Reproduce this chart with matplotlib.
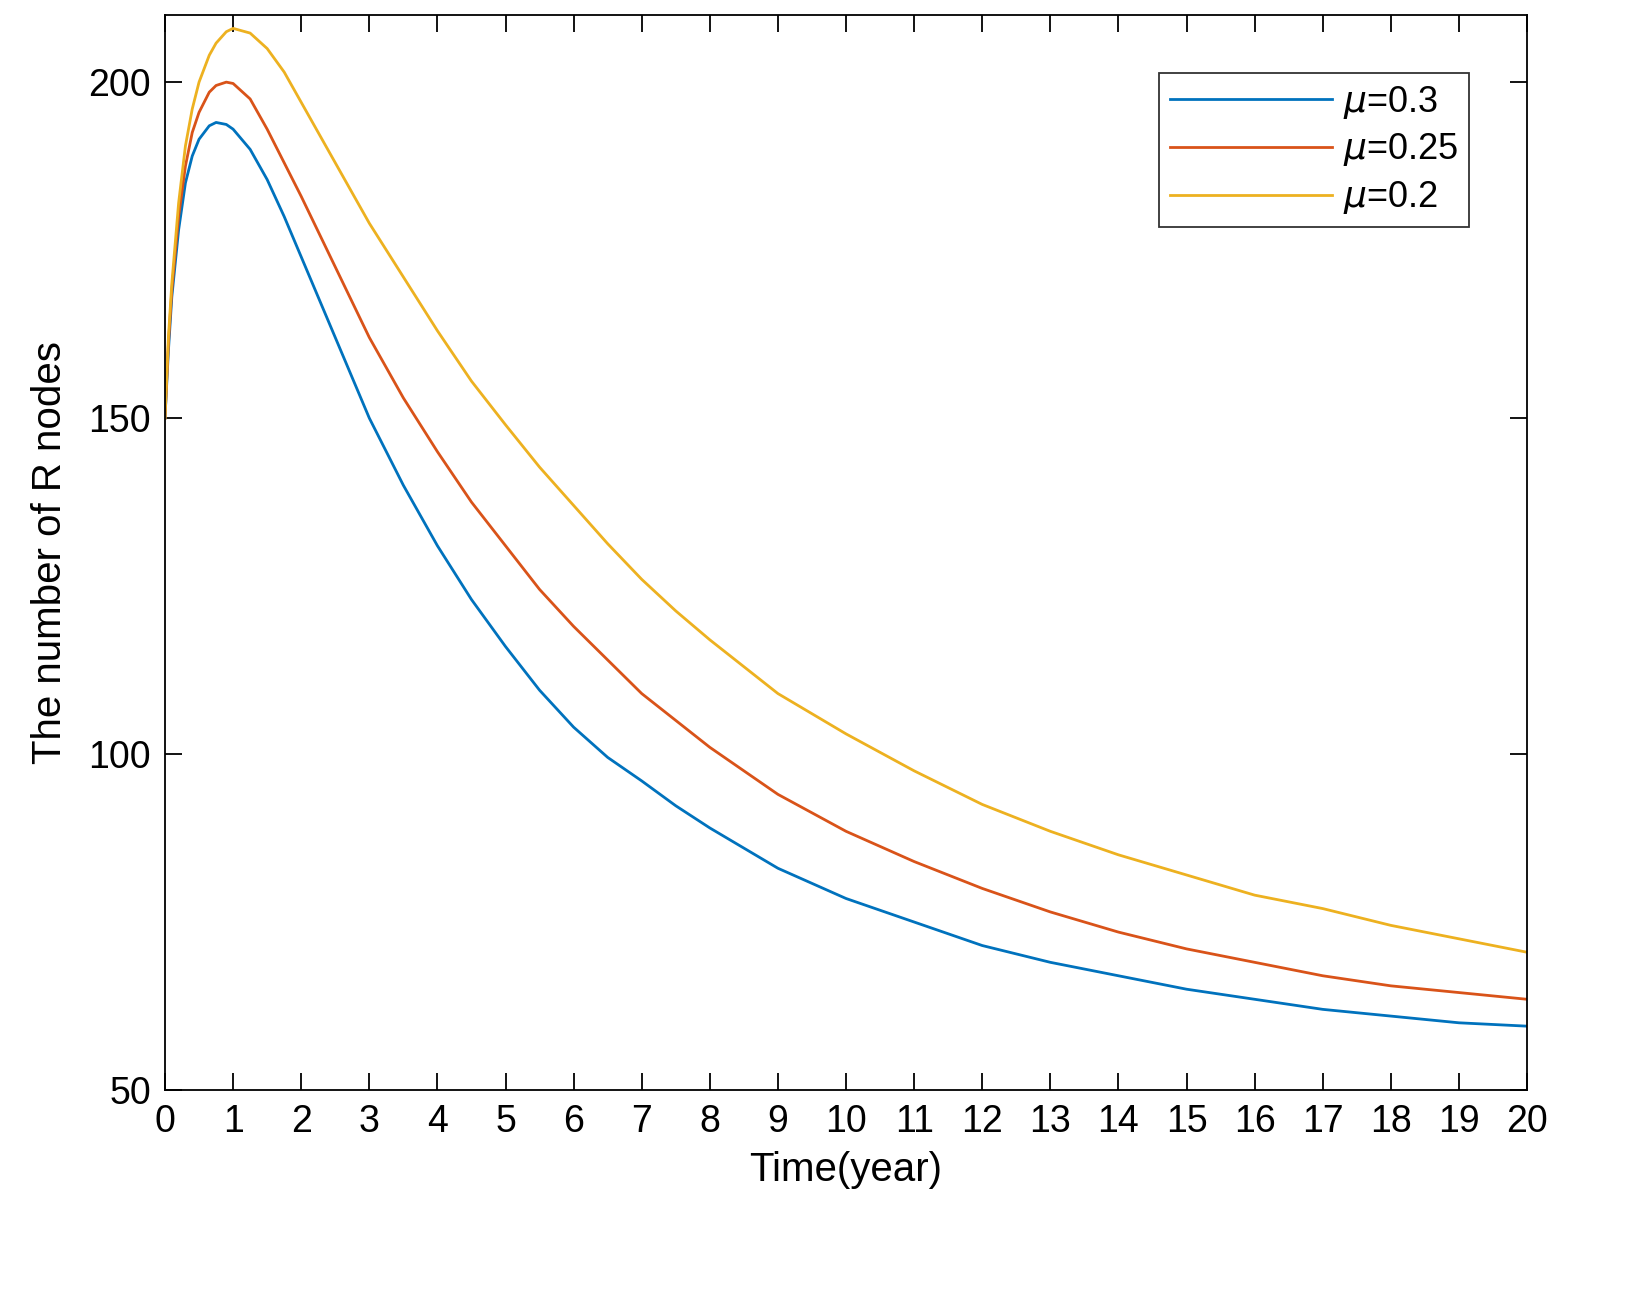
import matplotlib
matplotlib.use('Agg')
import matplotlib.pyplot as plt

t = [0, 0.05, 0.1, 0.2, 0.3, 0.4, 0.5, 0.65, 0.75, 0.9, 1, 1.25, 1.5, 1.75, 2, 2.5,
     3, 3.5, 4, 4.5, 5, 5.5, 6, 6.5, 7, 7.5, 8, 9, 10, 11, 12, 13, 14, 15, 16, 17,
     18, 19, 20]
r_mu03 = [150, 160, 168, 178, 185, 189, 191.5, 193.5, 194, 193.7, 193, 190, 185.5,
          180, 174, 162, 150, 140, 131, 123, 116, 109.5, 104, 99.5, 96, 92.3, 89,
          83, 78.5, 75, 71.5, 69, 67, 65, 63.5, 62, 61, 60, 59.5]
r_mu025 = [150, 161, 169, 180, 187.5, 192.5, 195.5, 198.5, 199.5, 200, 199.8, 197.5,
           193, 188, 183, 172.5, 162, 153, 145, 137.5, 131, 124.5, 119, 114, 109,
           105, 101, 94, 88.5, 84, 80, 76.5, 73.5, 71, 69, 67, 65.5, 64.5, 63.5]
r_mu02 = [150, 162, 170, 182, 190.5, 196, 200, 204, 205.8, 207.5, 208, 207.3, 205,
          201.5, 197, 188, 179, 171, 163, 155.5, 149, 142.7, 137, 131.3, 126, 121.3,
          117, 109, 103, 97.5, 92.5, 88.5, 85, 82, 79, 77, 74.5, 72.5, 70.5]

plt.rcParams['font.family'] = ['Liberation Sans', 'DejaVu Sans']
fig = plt.figure(figsize=(16.45, 12.99), dpi=100)
ax = fig.add_axes([0.1003, 0.1609, 0.828, 0.8276])

ax.plot(t, r_mu03, color='#0072BD', lw=2, label=r'$\mu$=0.3')
ax.plot(t, r_mu025, color='#D95319', lw=2, label=r'$\mu$=0.25')
ax.plot(t, r_mu02, color='#EDB120', lw=2, label=r'$\mu$=0.2')

ax.set_xlim(0, 20)
ax.set_ylim(50, 210)
ax.set_xticks(range(0, 21))
ax.set_yticks([50, 100, 150, 200])
ax.tick_params(direction='in', top=True, right=True, labelsize=27, length=12,
               width=1.3, pad=10)
for s in ax.spines.values():
    s.set_linewidth(1.3)
ax.set_xlabel('Time(year)', fontsize=29, labelpad=8)
ax.set_ylabel('The number of R nodes', fontsize=29, labelpad=14)
leg = ax.legend(loc='upper right', fontsize=26, fancybox=False, edgecolor='black',
                handlelength=4.5, borderaxespad=1.6, labelspacing=0.3,
                borderpad=0.3, handletextpad=0.3)
leg.get_frame().set_linewidth(1.3)

fig.savefig('out.png', dpi=100)
